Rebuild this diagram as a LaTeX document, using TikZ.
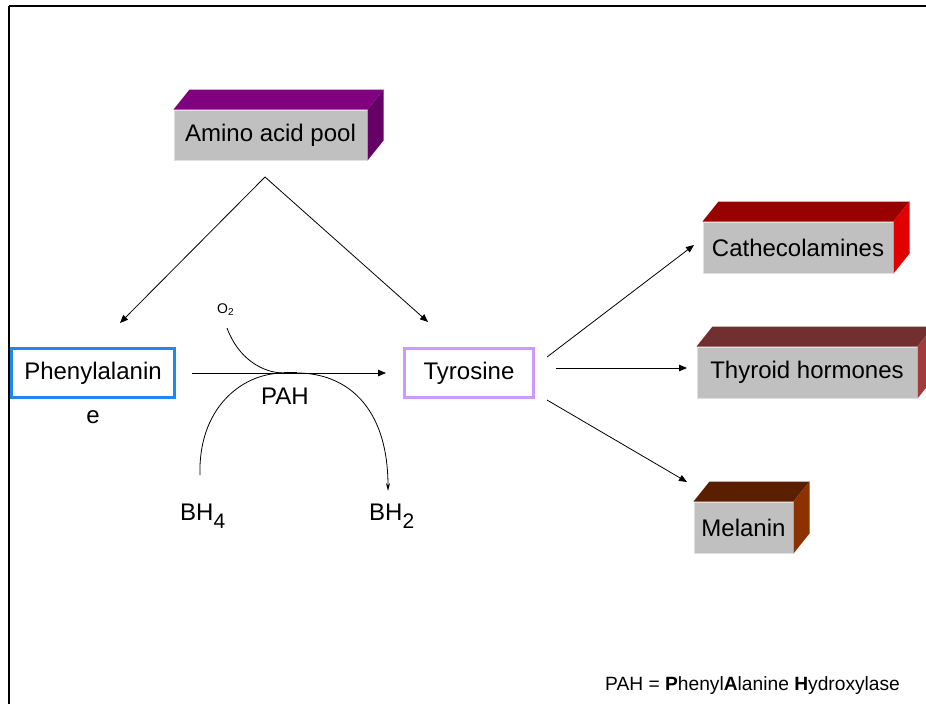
\documentclass[tikz,border=0pt]{standalone}
\usepackage{fontspec}
\setmainfont{Liberation Sans}
\usetikzlibrary{arrows.meta}
\definecolor{front}{HTML}{C0C0C0}
\definecolor{aminotop}{HTML}{800080}
\definecolor{aminoside}{HTML}{660066}
\definecolor{cattop}{HTML}{990000}
\definecolor{catside}{HTML}{E00000}
\definecolor{thytop}{HTML}{722F2F}
\definecolor{thyside}{HTML}{A03C3C}
\definecolor{meltop}{HTML}{5A1E00}
\definecolor{melside}{HTML}{8C3200}
\definecolor{phecol}{HTML}{1E88F0}
\definecolor{tyrcol}{HTML}{CC99FF}

\begin{document}
\begin{tikzpicture}[x=1pt,y=-1pt,
  face/.style={fill=front,draw=white!88!black,line width=1pt,inner sep=0pt,font=\fontsize{24}{28}\selectfont},
  plain/.style={draw,line width=3pt,inner sep=0pt,font=\fontsize{24}{28}\selectfont},
  txt/.style={inner sep=0pt,font=\fontsize{24}{28}\selectfont},
  arr/.style={-{Triangle[length=8pt,width=6.5pt]},line width=.8pt}]
\useasboundingbox[fill=white] (0,0) rectangle (926,704);
\draw[line width=2pt] (9,6)--(926,6); \draw[line width=1.5pt] (9,6)--(9,704);
\node[face,minimum width=193,minimum height=50] (amino) at (270.5,135) {Amino acid pool};
\node[face,minimum width=190,minimum height=51] (cat) at (798,247.5) {Cathecolamines};
\node[face,minimum width=220,minimum height=51] (thy) at (807,372.5) {Thyroid hormones};
\node[face,minimum width=99,minimum height=51] (mel) at (743.5,527.5) {Melanin};
\foreach \b/\t/\s in {amino/aminotop/aminoside,cat/cattop/catside,thy/thytop/thyside,mel/meltop/melside}{
  \fill[\t] (\b.north west)--++(16,-20)--([shift={(16,-20)}]\b.north east)--(\b.north east)--cycle;
  \fill[\s] (\b.north east)--++(16,-20)--([shift={(16,-20)}]\b.south east)--(\b.south east)--cycle;}
\node[plain,draw=phecol,minimum width=163,minimum height=49] (phe) at (93,373) {Phenylalanin};
\node[txt,anchor=base] (pheend) at (93,423) {e};
\node[plain,draw=tyrcol,minimum width=129,minimum height=49] (tyr) at (469,373) {Tyrosine};
\coordinate (fork) at (265,177); \coordinate (tophe) at (120,323); \coordinate (totyr) at (428,322);
\draw[arr] (fork)--(tophe); \draw[arr] (fork)--(totyr);
\draw[arr] ([xshift=16pt]phe.east)--([xshift=-17pt]tyr.west);
\coordinate (tocat) at (694,245); \coordinate (tothy) at (687,368); \coordinate (tomel) at (687,482);
\draw[arr] ([shift={(12,-16)}]tyr.east)--(tocat);
\draw[arr] ([shift={(21,-5)}]tyr.east)--(tothy);
\draw[arr] ([shift={(12,27)}]tyr.east)--(tomel);
\coordinate (o2in) at (227,328); \coordinate (bh4in) at (200,475);
\coordinate (pahl) at (284,373); \coordinate (pahr) at (297,373);
\draw[line width=.8pt] (o2in) .. controls (238,358) and (262,373) .. (pahl);
\draw[line width=.8pt] (bh4in) .. controls (198,410) and (240,373) .. (pahl);
\draw[line width=.8pt,-{Stealth[length=8pt,width=4pt]}] (pahr) .. controls (345,373) and (388,405) .. (388,491);
\draw[line width=2.5pt] (pahl)--(pahr);
\node[txt,anchor=base] (pah) at (285,404) {PAH};
\node[inner sep=0pt,anchor=base west,font=\fontsize{14}{14}\selectfont] (o2) at (217,313) {O\raisebox{-2pt}{\fontsize{10}{10}\selectfont 2}};
\node[txt,anchor=base west] (bh4) at (180,520) {BH\raisebox{-8pt}{\fontsize{21}{21}\selectfont 4}};
\node[txt,anchor=base west] (bh2) at (369,520) {BH\raisebox{-8pt}{\fontsize{21}{21}\selectfont 2}};
\node[inner sep=0pt,anchor=base west,font=\fontsize{19.2}{20}\selectfont] (key) at (605,690) {PAH = \textbf{P}henyl\textbf{A}lanine \textbf{H}ydroxylase};
\end{tikzpicture}
\end{document}
